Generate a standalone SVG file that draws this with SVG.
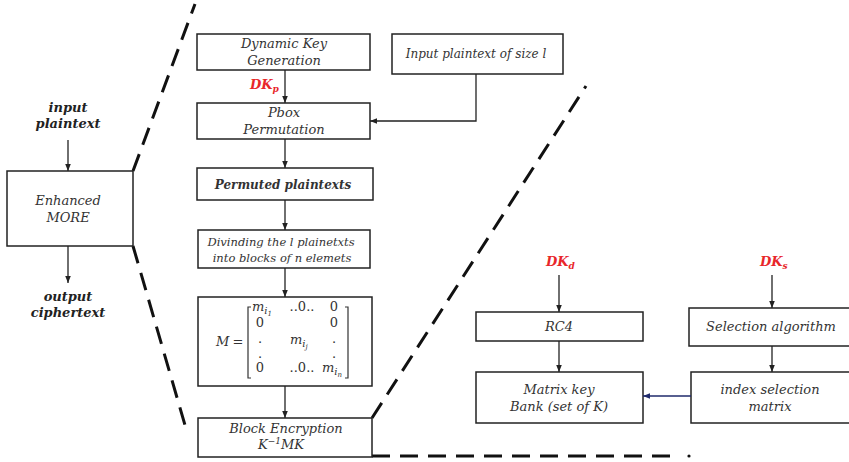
<svg xmlns="http://www.w3.org/2000/svg" width="849" height="462" viewBox="0 0 849 462">
<defs>
<style>
.box{fill:#fff;stroke:#222;stroke-width:1.5}
.t{font-family:"DejaVu Serif",serif;font-style:italic;font-size:13px;fill:#333;text-anchor:middle}
.tb{font-family:"DejaVu Serif",serif;font-style:italic;font-weight:bold;font-size:13px;fill:#222;text-anchor:middle}
.key{font-family:"DejaVu Serif",serif;font-style:italic;font-weight:bold;font-size:13px;fill:#e8262a}
.m{font-family:"DejaVu Serif",serif;font-size:13px;fill:#333;text-anchor:middle}
.mi{font-family:"DejaVu Serif",serif;font-style:italic;font-size:13px;fill:#333}
.c{fill:none;stroke:#222;stroke-width:1.3}
.dash{fill:none;stroke:#111;stroke-width:3;stroke-dasharray:18 10}
</style>
<marker id="ah" viewBox="0 0 10 10" refX="10" refY="5" markerWidth="7" markerHeight="7" orient="auto-start-reverse" markerUnits="userSpaceOnUse">
<path d="M0,1 L10,5 L0,9 z" fill="#222"/>
</marker>
<marker id="ahb" viewBox="0 0 10 10" refX="10" refY="5" markerWidth="7" markerHeight="7" orient="auto" markerUnits="userSpaceOnUse">
<path d="M0,1 L10,5 L0,9 z" fill="#1f2a6b"/>
</marker>
</defs>

<g id="dashes">
<path class="dash" d="M133,171 L195,4"/>
<path class="dash" d="M133,246 L187,432"/>
<path class="dash" d="M372,418 L586,86"/>
<path class="dash" d="M372,456 L680,456"/>
<circle cx="689" cy="456" r="1.6" fill="#111"/>
</g>

<g id="input-label">
<text class="tb" x="68" y="112">input</text>
<text class="tb" x="68" y="128">plaintext</text>
</g>
<g id="enhanced-more">
<rect class="box" x="7" y="171" width="126" height="75"/>
<text class="t" x="68" y="205">Enhanced</text>
<text class="t" x="68" y="222">MORE</text>
</g>
<g id="output-label">
<text class="tb" x="68" y="301">output</text>
<text class="tb" x="68" y="317">ciphertext</text>
</g>

<g id="dynamic-key">
<rect class="box" x="197" y="34" width="173" height="36"/>
<text class="t" x="284" y="48">Dynamic Key</text>
<text class="t" x="284" y="65">Generation</text>
</g>
<g id="input-size">
<rect class="box" x="392" y="34" width="171" height="40"/>
<text class="t" x="476" y="58" style="font-size:12px">Input plaintext of size l</text>
</g>
<g id="dkp">
<text class="key" x="250" y="89">DK<tspan font-size="9" dy="3">p</tspan></text>
</g>
<g id="pbox">
<rect class="box" x="197" y="103" width="173" height="36"/>
<text class="t" x="284" y="117">Pbox</text>
<text class="t" x="284" y="134">Permutation</text>
</g>
<g id="permuted">
<rect class="box" x="197" y="168" width="176" height="32"/>
<text class="t" x="283" y="189" style="font-weight:bold;font-size:12px">Permuted plaintexts</text>
</g>
<g id="dividing">
<rect class="box" x="198" y="230" width="172" height="38"/>
<text class="t" x="281" y="246" style="font-size:11.5px">Divinding the l plainetxts</text>
<text class="t" x="282" y="262" style="font-size:11.5px">into blocks of  n elemets</text>
</g>
<g id="matrix">
<rect class="box" x="198" y="297" width="174" height="89"/>
<text class="mi" x="216" y="346">M</text>
<text class="m" x="238" y="346">=</text>
<path d="M251,307 L248,307 L248,378 L251,378 M345,307 L348,307 L348,378 L345,378" fill="none" stroke="#333" stroke-width="1.2"/>
<text class="mi" x="252" y="311">m<tspan font-size="10" dy="3">i</tspan><tspan font-size="7" dy="2">1</tspan></text>
<text class="m" x="302" y="311">..0..</text>
<text class="m" x="334" y="311">0</text>
<text class="m" x="260" y="327">0</text>
<text class="m" x="334" y="327">0</text>
<text class="m" x="260" y="343">.</text>
<text class="mi" x="290" y="344">m<tspan font-size="10" dy="3">i</tspan><tspan font-size="7" dy="2">j</tspan></text>
<text class="m" x="334" y="343">.</text>
<text class="m" x="260" y="358">.</text>
<text class="m" x="334" y="358">.</text>
<text class="m" x="260" y="372">0</text>
<text class="m" x="302" y="372">..0..</text>
<text class="mi" x="322" y="372">m<tspan font-size="10" dy="3">i</tspan><tspan font-size="7" dy="2">n</tspan></text>
</g>
<g id="block-encryption">
<rect class="box" x="198" y="418" width="174" height="39"/>
<text class="t" x="286" y="433">Block Encryption</text>
<text class="t" x="281" y="449">K<tspan font-size="9" dy="-5">−1</tspan><tspan dy="5">MK</tspan></text>
</g>

<g id="dkd">
<text class="key" x="546" y="266">DK<tspan font-size="9" dy="3">d</tspan></text>
</g>
<g id="rc4">
<rect class="box" x="476" y="312" width="167" height="29"/>
<text class="t" x="559" y="331">RC4</text>
</g>
<g id="matrix-key">
<rect class="box" x="476" y="372" width="167" height="51"/>
<text class="t" x="559" y="394">Matrix key</text>
<text class="t" x="559" y="411">Bank (set of  K)</text>
</g>
<g id="dks">
<text class="key" x="760" y="266">DK<tspan font-size="9" dy="3">s</tspan></text>
</g>
<g id="selection">
<rect class="box" x="689" y="308" width="162" height="38"/>
<text class="t" x="771" y="331">Selection algorithm</text>
</g>
<g id="index-selection">
<rect class="box" x="691" y="372" width="160" height="51"/>
<text class="t" x="770" y="394">index selection</text>
<text class="t" x="770" y="411">matrix</text>
</g>

<g id="connectors">
<path class="c" d="M68,140 L68,171" marker-end="url(#ah)"/>
<path class="c" d="M68,246 L68,283" marker-end="url(#ah)"/>
<path class="c" d="M285,70 L285,103" marker-end="url(#ah)"/>
<path class="c" stroke-width="2" d="M476,74 L476,121 L370,121" marker-end="url(#ah)"/>
<path class="c" d="M285,139 L285,168" marker-end="url(#ah)"/>
<path class="c" d="M285,200 L285,230" marker-end="url(#ah)"/>
<path class="c" d="M285,268 L285,297" marker-end="url(#ah)"/>
<path class="c" d="M285,386 L285,418" marker-end="url(#ah)"/>
<path class="c" stroke-width="2" d="M559,275 L559,312" marker-end="url(#ah)"/>
<path class="c" stroke-width="2" d="M559,341 L559,372" marker-end="url(#ah)"/>
<path class="c" stroke-width="2" d="M772,275 L772,308" marker-end="url(#ah)"/>
<path class="c" stroke-width="2" d="M772,346 L772,372" marker-end="url(#ah)"/>
<path fill="none" stroke="#1f2a6b" stroke-width="1.3" d="M691,396 L643,396" marker-end="url(#ahb)"/>
</g>
</svg>
